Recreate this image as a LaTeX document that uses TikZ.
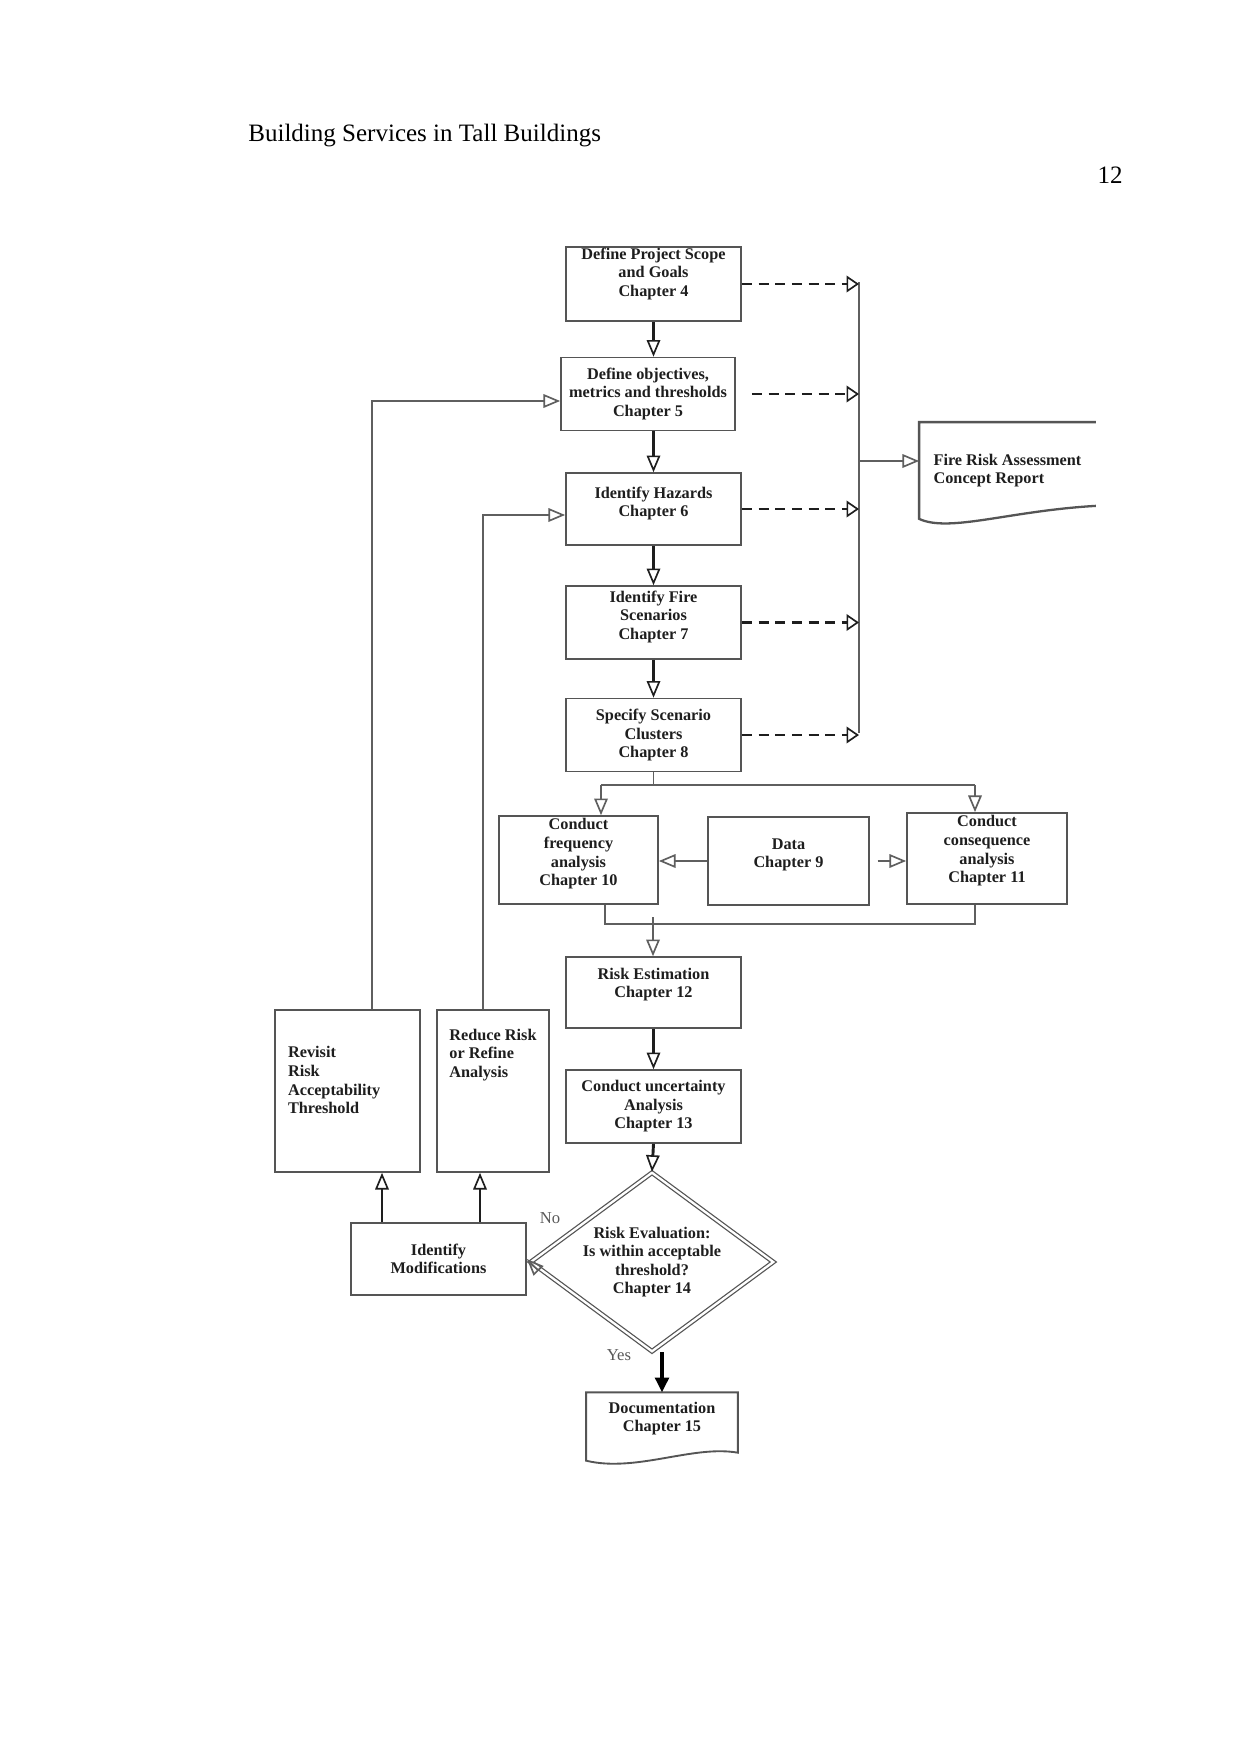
\documentclass[tikz,border=0pt]{standalone}
\usepackage{fontspec}
\setmainfont{Liberation Serif}
\usetikzlibrary{arrows.meta,shapes.geometric,calc}
\definecolor{ink}{RGB}{30,30,30}
\definecolor{boxline}{RGB}{85,85,85}
\definecolor{gline}{RGB}{95,95,95}
\tikzset{
  x=0.4797pt,y=-0.4797pt,
  >={Triangle[open,length=8pt,width=6.5pt,line width=0.8pt]},
  box/.style={draw=boxline,line width=0.8pt,minimum width=84pt,minimum height=35pt,
    align=center,inner sep=2pt,text=ink,font=\fontsize{7.8}{8.9}\selectfont\bfseries},
  lift/.style 2 args={text height=#1,text depth=#2},
  flow/.style={->,line width=1.4pt,draw=ink},
  wire/.style={->,line width=0.7pt,draw=gline},
  link/.style={line width=0.7pt,draw=gline},
  feed/.style={-{Triangle[open,length=6pt,width=8pt,line width=0.8pt]},line width=1.3pt,
    draw=ink,dash pattern=on 4.8pt off 3.2pt},
  tag/.style={font=\fontsize{8}{9}\selectfont,text=black!65},
}
\begin{document}
\begin{tikzpicture}
  \path[use as bounding box,fill=white] (0,0) rectangle (1241,1754);
  % page head
  \node[anchor=base west,font=\fontsize{12}{14}\selectfont] (head) at (241,141) {Building Services in Tall Buildings};
  \node[anchor=base east,font=\fontsize{12}{14}\selectfont] (page) at (1130,184) {12};
  % main column
  \node[box,minimum height=35.5pt,lift={21.6pt}{9.9pt}] (scope) at (653.5,284) {Define Project Scope\\and Goals\\Chapter 4};
  \node[box,minimum width=83.5pt] (obj) at (648,394) {Define objectives,\\metrics and thresholds\\Chapter 5};
  \node[box,minimum height=34.5pt,lift={18.9pt}{11.6pt}] (haz) at (653.5,509) {Identify Hazards\\Chapter 6};
  \node[box,lift={23.5pt}{7.5pt}] (fire) at (653.5,622.5) {Identify Fire\\Scenarios\\Chapter 7};
  \node[box] (clus) at (653.5,735) {Specify Scenario\\Clusters\\Chapter 8};
  \node[box,minimum width=76.3pt,minimum height=42.2pt,lift={31.4pt}{6.8pt}] (freq) at (578.5,860) {Conduct\\frequency\\analysis\\Chapter 10};
  \node[box,minimum width=77.2pt,minimum height=42.2pt,lift={22.3pt}{15.9pt}] (data) at (788.5,861) {Data\\Chapter 9};
  \node[box,minimum width=76.8pt,minimum height=43.7pt,lift={31.4pt}{8.3pt}] (cons) at (987,858.5) {Conduct\\consequence\\analysis\\Chapter 11};
  \node[box,minimum height=34pt,lift={17.5pt}{12.5pt}] (est) at (653.5,992.5) {Risk Estimation\\Chapter 12};
  \node[box] (unc) at (653.5,1106.5) {Conduct uncertainty\\Analysis\\Chapter 13};
  \node[box,diamond,aspect=1.36,inner sep=0pt,minimum width=116.6pt,minimum height=85.9pt,
    double,double distance=1.1pt,line width=0.6pt] (eval) at (652,1262) {Risk Evaluation:\\Is within acceptable\\threshold?\\Chapter 14};
  % loop back side
  \node[box,minimum height=34.5pt] (mods) at (438.5,1259) {Identify\\Modifications};
  \node[box,align=left,minimum width=0pt,text width=57pt,inner xsep=6.2pt,minimum height=77.7pt,
    lift={21pt}{52.7pt}] (revis) at (347.5,1091) {Revisit\\Risk\\Acceptability\\Threshold};
  \node[box,align=left,minimum width=53.7pt,minimum height=77.7pt,lift={30.2pt}{43.5pt}] (reduce) at (493,1091) {Reduce Risk\\or Refine\\Analysis};
  % documents
  \node[box,draw=none,align=left,minimum height=45.6pt] (rep) at (1007.5,470.5) {Fire Risk Assessment\\Concept Report};
  \node[box,draw=none,minimum width=72pt,minimum height=32pt,lift={16.5pt}{11.5pt}] (doc) at (662,1426.5) {Documentation\\Chapter 15};
  \draw[boxline,line width=1.1pt] (rep.north east) -- (rep.north west) -- (rep.south west)
    .. controls ($(rep.south west)+(30,14)$) and ($(rep.south west)+(90,-8)$) .. ($(rep.south east)+(0,-13)$);
  \draw[boxline,line width=0.9pt] (doc.north west) -- (doc.north east) -- ($(doc.south east)+(0,-8)$)
    .. controls ($(doc.south east)+(-45,-16)$) and ($(doc.south west)+(50,12)$) .. (doc.south west) -- cycle;
  % junctions
  \coordinate (bus) at (859,282);
  \coordinate (busend) at (859,733);
  \coordinate (tap) at (859,461);
  \coordinate (forkL) at (601,785);
  \coordinate (forkR) at (975,785);
  \coordinate (joinL) at (605,924);
  \coordinate (joinR) at (975,924);
  \coordinate (joinM) at (653,917);
  \coordinate (loopA) at (372,401);
  \coordinate (loopB) at (483,515);
  % report collector
  \draw[link] (bus) -- (busend);
  \foreach \n/\g in {scope/0pt,obj/7.7pt,haz/0pt,fire/0pt,clus/0pt}
    \draw[feed,shorten <=\g] (\n.east) -- (\n.east -| bus);
  \draw[wire,line width=1pt] (tap) -- (tap -| rep.west);
  % main flow
  \draw[flow] (scope.south) -- (scope.south |- obj.north);
  \draw[flow] (haz.north |- obj.south) -- (haz.north);
  \foreach \a/\b in {haz/fire,fire/clus,est/unc}
    \draw[flow] (\a.south) -- (\b.north);
  \draw[flow] (unc.south) -- (eval.north);
  % fork and merge
  \draw[link] (clus.south) -- (clus.south |- forkL);
  \draw[link] (forkL) -- (forkR);
  \draw[wire] (forkL) -- (forkL |- freq.north);
  \draw[wire] (forkR) -- (forkR |- cons.north);
  \draw[wire] (data.west) -- (data.west -| freq.east);
  \draw[wire,shorten <=3.8pt] (data.east) -- (data.east -| cons.west);
  \draw[link] (joinL |- freq.south) -- (joinL) -- (joinR) -- (joinR |- cons.south);
  \draw[wire] (joinM) -- (joinM |- est.north);
  % back loops
  \draw[wire] (revis.north -| loopA) -- (loopA) -- (loopA -| obj.west);
  \draw[wire] (reduce.north -| loopB) -- (loopB) -- (loopB -| haz.west);
  \draw[wire] (eval.west) -- (mods.east);
  \foreach \x/\n in {382/revis,480/reduce}
    \draw[flow] (mods.north -| \x,0) -- (\n.south -| \x,0);
  \draw[line width=1.6pt,draw=black,-{Triangle[length=7pt,width=6.5pt]}] (eval.south -| doc.north) -- (doc.north);
  \node[tag] (no) at (550,1218) {No};
  \node[tag] (yes) at (619,1355) {Yes};
\end{tikzpicture}
\end{document}
